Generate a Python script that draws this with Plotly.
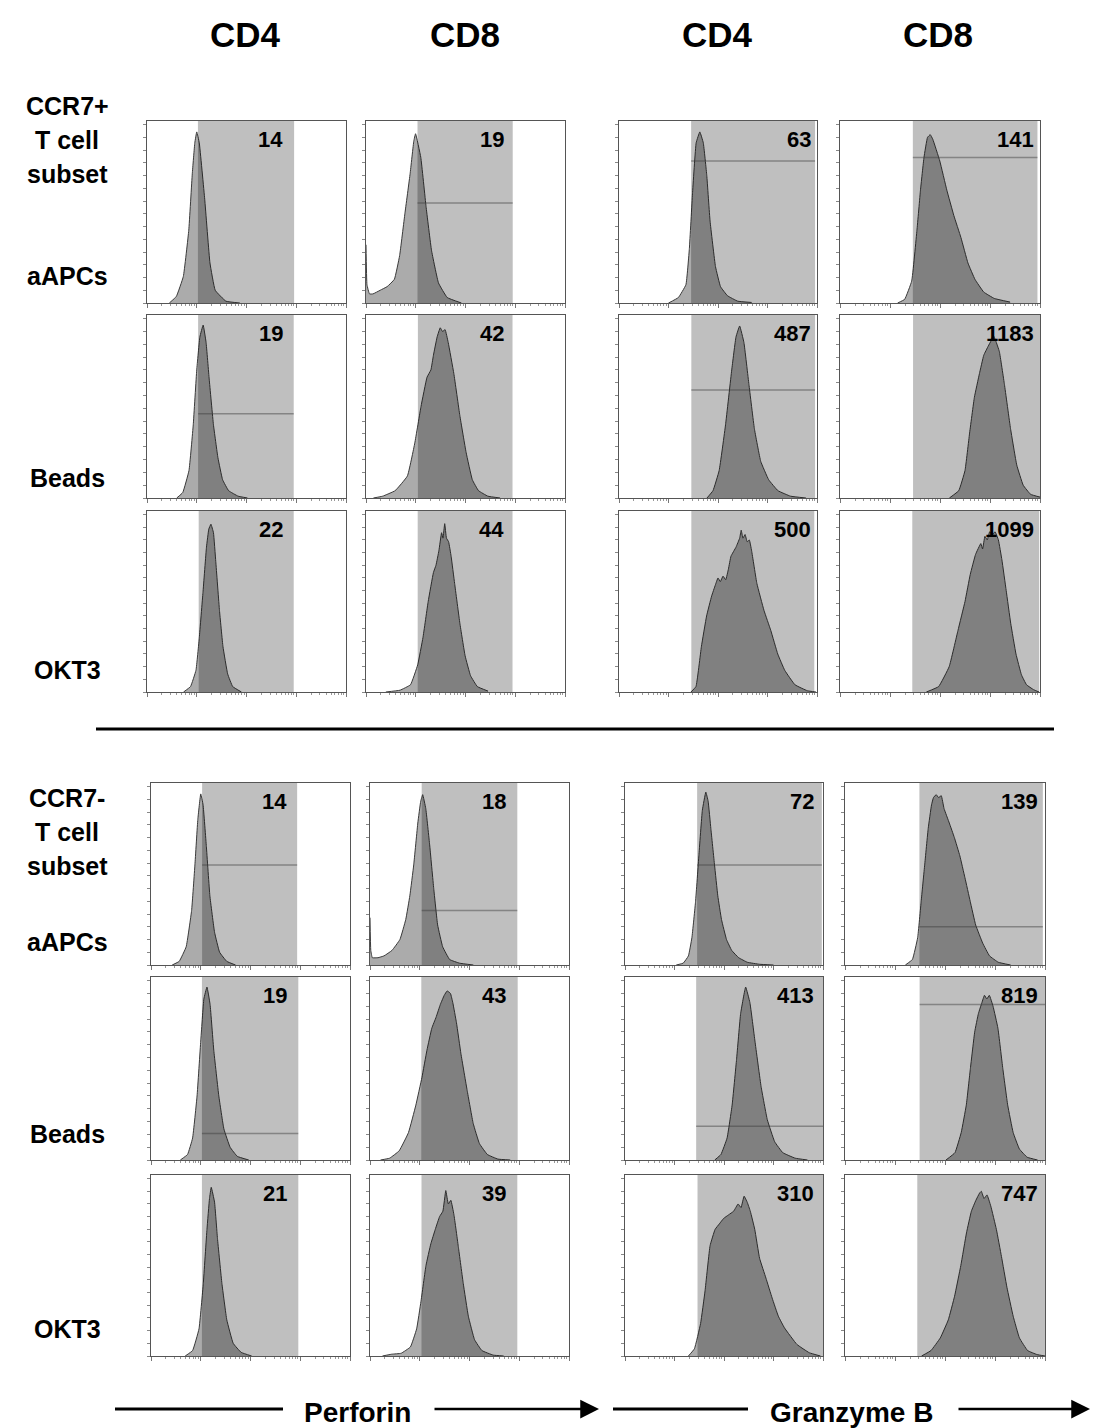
import numpy as np
import plotly.graph_objects as go

# ---------------- labels ----------------
col_headers = ["CD4", "CD8", "CD4", "CD8"]
marker_labels = ["Perforin", "Granzyme B"]
subset_top = ["CCR7+", "T cell", "subset"]
subset_bot = ["CCR7-", "T cell", "subset"]
stim_labels = ["aAPCs", "Beads", "OKT3"]

# MFI numbers shown in each panel [row][col]
mfi_values = [[14, 19, 63, 141],
              [19, 42, 487, 1183],
              [22, 44, 500, 1099],
              [14, 18, 72, 139],
              [19, 43, 413, 819],
              [21, 39, 310, 747]]

# gate (channel units, 0-1024 = 4 log decades)
gate_lo = [[262, 265, 373, 373],
           [263, 267, 374, 374],
           [266, 266, 374, 370],
           [263, 266, 373, 381],
           [262, 264, 368, 382],
           [262, 265, 375, 370]]
gate_hi = [[757, 755, 1014, 1011],
           [755, 754, 1014, 1024],
           [755, 754, 1010, 1020],
           [752, 758, 1018, 1013],
           [758, 760, 1024, 1024],
           [758, 758, 1024, 1024]]
# height (% of max) of the horizontal gate marker, None = no marker
gate_marker = [[None, 55, 78, 80],
               [46, None, 59, None],
               [None, None, None, None],
               [55, 30, 55, 21],
               [14.5, None, 18.5, 85],
               [None, None, None, None]]

# ---------------- histograms (channel, % of max) ----------------
r1c1_ch = [115, 151, 187, 215, 233, 246, 256, 269, 297, 324, 351, 406, 478]
r1c1_pct = [0, 3.6, 14.6, 40, 71, 88, 94, 88, 57, 22, 7, 1, 0]
r1c2_ch = [0, 5, 18, 36, 73, 109, 146, 173, 200, 227, 246, 255, 282, 309, 337, 373, 418, 491]
r1c2_pct = [32, 10, 5, 5, 7, 9, 13, 26, 49, 71, 89, 93, 80, 53, 29, 11, 3, 0]
r1c3_ch = [256, 307, 346, 364, 380, 399, 418, 436, 454, 471, 499, 525, 561, 614, 686]
r1c3_pct = [0, 3, 10, 30, 60, 88, 94, 88, 70, 45, 20, 9, 4, 1, 0.3]
r1c4_ch = [295, 331, 367, 394, 412, 430, 448, 462, 475, 511, 547, 583, 619, 655, 691, 736, 790, 871]
r1c4_pct = [0, 2, 12, 40, 62, 80, 91, 92.5, 90, 78, 62, 48, 36, 22, 13, 6, 2.5, 0.5]

r2c1_ch = [153, 184, 216, 238, 256, 272, 289, 304, 320, 342, 365, 389, 420, 469, 517]
r2c1_pct = [0, 3, 15, 40, 70, 88, 94.5, 85, 65, 40, 22, 10, 4, 1, 0]
r2c2_ch = [38, 86, 150, 213, 251, 283, 314, 334, 347, 366, 382, 394, 407, 423, 452, 483, 515, 547, 579, 627, 690]
r2c2_pct = [0, 1, 4, 12, 30, 50, 66, 70, 78, 88, 93, 91, 92, 85, 68, 45, 25, 10, 4, 1, 0]
r2c3_ch = [455, 486, 518, 551, 583, 605, 624, 646, 672, 700, 733, 774, 822, 887, 967]
r2c3_pct = [0, 4, 15, 40, 70, 88, 94, 85, 62, 38, 20, 10, 4, 1, 0]
r2c4_ch = [560, 608, 640, 663, 688, 714, 736, 759, 774, 784, 797, 816, 842, 873, 905, 938, 976, 1024]
r2c4_pct = [0, 4, 15, 35, 55, 68, 78, 83, 86, 89, 86, 80, 62, 38, 18, 7, 2, 0.5]

r3c1_ch = [188, 224, 252, 269, 288, 306, 318, 329, 342, 354, 373, 391, 415, 441, 486]
r3c1_pct = [0, 3, 12, 30, 55, 80, 90, 92.7, 88, 72, 45, 25, 10, 3, 0]
r3c2_ch = [102, 175, 229, 266, 293, 320, 347, 360, 375, 389, 396, 405, 414, 425, 438, 456, 483, 510, 538, 573, 628]
r3c2_pct = [0, 1, 4, 15, 30, 50, 66, 70, 78, 88, 85, 93, 85, 83, 75, 60, 38, 20, 9, 3, 0.5]
r3c3_ch = [372, 398, 426, 453, 479, 498, 512, 524, 538, 552, 566, 579, 605, 624, 632, 641, 652, 663,
           674, 686, 713, 750, 785, 821, 857, 910, 974, 1019]
r3c3_pct = [0, 3, 25, 42, 53, 59, 63, 61, 64, 62, 68, 75, 80, 85, 89.4, 85, 87, 83,
            84, 78, 60, 45, 34, 21, 12, 4, 0.7, 0]
r3c4_ch = [442, 505, 559, 604, 640, 667, 694, 721, 730, 742, 754, 766, 779, 794, 811, 829, 851, 874,
           901, 929, 955, 991, 1019]
r3c4_pct = [0, 3, 14, 34, 50, 65, 76, 82, 79, 86, 84, 88.5, 87, 88.5, 84, 73, 56, 38,
            21, 9.5, 4, 1.3, 0]

r4c1_ch = [109, 145, 181, 209, 226, 241, 256, 268, 285, 303, 327, 353, 390, 435]
r4c1_pct = [0, 2, 10, 30, 55, 80, 94, 88, 65, 38, 18, 7, 2, 0]
r4c2_ch = [0, 4, 12, 41, 72, 113, 154, 184, 205, 225, 246, 261, 271, 287, 307, 328, 348, 374, 410, 461, 532]
r4c2_pct = [26, 8, 4, 4, 5, 8, 14, 25, 38, 55, 78, 90, 93.6, 86, 66, 42, 22, 10, 3, 1, 0]
r4c3_ch = [265, 301, 328, 346, 365, 382, 400, 418, 430, 444, 463, 480, 499, 525, 552, 588, 633, 696, 768]
r4c3_pct = [0, 1, 5, 15, 35, 60, 85, 95, 90, 75, 55, 38, 25, 14, 8, 4, 1.5, 0.4, 0]
r4c4_ch = [309, 345, 372, 390, 408, 426, 443, 453, 467, 479, 493, 507, 534, 560, 588, 614, 641, 669,
           705, 740, 785, 848]
r4c4_pct = [0, 3, 15, 35, 55, 75, 88, 92, 93.6, 92, 93, 86, 78, 70, 60, 48, 35, 22, 12, 5, 1.5, 0]

r5c1_ch = [151, 188, 214, 237, 256, 272, 288, 304, 323, 349, 375, 407, 444, 503]
r5c1_pct = [0, 3, 12, 35, 65, 88, 94.5, 85, 60, 35, 17, 7, 2, 0]
r5c2_ch = [54, 101, 150, 198, 236, 267, 293, 318, 340, 362, 382, 397, 414, 426, 445, 468, 500, 531,
           563, 604, 658, 722]
r5c2_pct = [0, 1, 5, 15, 30, 45, 60, 72, 78, 85, 90, 92.4, 91, 86, 75, 58, 38, 20, 9, 3, 0.5, 0]
r5c3_ch = [464, 496, 528, 554, 577, 598, 624, 646, 672, 704, 736, 774, 816, 880, 944]
r5c3_pct = [0, 3, 12, 30, 55, 80, 94.5, 86, 65, 40, 22, 10, 4, 1, 0]
r5c4_ch = [517, 563, 595, 621, 642, 664, 683, 701, 714, 726, 739, 758, 783, 808, 833, 861, 893, 933, 986]
r5c4_pct = [0, 4, 15, 30, 50, 70, 80, 86, 90, 88, 90, 84, 72, 50, 30, 15, 6, 1.5, 0]

r6c1_ch = [176, 214, 247, 269, 288, 301, 310, 327, 342, 365, 390, 423, 464, 518]
r6c1_pct = [0, 3, 15, 40, 70, 87, 93.2, 85, 65, 40, 20, 7, 2, 0]
r6c2_ch = [64, 112, 160, 208, 240, 262, 288, 313, 336, 358, 375, 390, 403, 416, 432, 455, 480, 506,
           538, 576, 634, 688]
r6c2_pct = [0, 1, 1.5, 5, 15, 30, 50, 62, 70, 77, 80, 91.4, 84, 86, 78, 60, 40, 22, 9, 3, 0.5, 0]
r6c3_ch = [328, 359, 391, 414, 440, 466, 488, 510, 536, 562, 585, 600, 616, 632, 648, 671, 696, 729,
           761, 793, 825, 889, 953, 1011]
r6c3_pct = [0, 4, 18, 36, 61, 70, 73, 76, 78, 80, 84, 82, 88.3, 85, 80, 70, 54, 43,
            32, 22, 15.5, 6.4, 1.8, 0]
r6c4_ch = [392, 440, 488, 529, 561, 593, 622, 647, 670, 689, 698, 712, 727, 746, 775, 801, 829, 861,
           893, 935, 983, 1024]
r6c4_pct = [0, 3, 10, 20, 33, 50, 68, 80, 86, 90, 91, 87, 89, 83, 70, 55, 38, 22, 10, 3, 0.8, 0]

hist_ch = [[r1c1_ch, r1c2_ch, r1c3_ch, r1c4_ch],
           [r2c1_ch, r2c2_ch, r2c3_ch, r2c4_ch],
           [r3c1_ch, r3c2_ch, r3c3_ch, r3c4_ch],
           [r4c1_ch, r4c2_ch, r4c3_ch, r4c4_ch],
           [r5c1_ch, r5c2_ch, r5c3_ch, r5c4_ch],
           [r6c1_ch, r6c2_ch, r6c3_ch, r6c4_ch]]
hist_pct = [[r1c1_pct, r1c2_pct, r1c3_pct, r1c4_pct],
            [r2c1_pct, r2c2_pct, r2c3_pct, r2c4_pct],
            [r3c1_pct, r3c2_pct, r3c3_pct, r3c4_pct],
            [r4c1_pct, r4c2_pct, r4c3_pct, r4c4_pct],
            [r5c1_pct, r5c2_pct, r5c3_pct, r5c4_pct],
            [r6c1_pct, r6c2_pct, r6c3_pct, r6c4_pct]]

# ---------------- layout geometry (pixels) ----------------
W, H = 1094, 1428
top_cols = [(147, 346), (366, 565), (619, 817), (840, 1040)]
bot_cols = [(151, 350), (370, 569), (625, 823), (845, 1045)]
rows_px = [(121, 303), (315, 498), (511, 692), (783, 965), (977, 1160), (1175, 1356)]
num_right_top = [285, 506, 813, 1036]
num_right_bot = [289, 508, 816, 1040]

FONT = "Liberation Sans, Arial, Helvetica, sans-serif"


def px_x(p):
    return p / W


def px_y(p):
    return 1 - p / H


major_ticks = [0, 256, 512, 768, 1024]
minor_ticks = [256 * (d + np.log10(k)) for d in range(4) for k in range(2, 10)]

fig = go.Figure()
axes = {}
shapes = []
annotations = []

for r in range(6):
    cols = top_cols if r < 3 else bot_cols
    num_right = num_right_top if r < 3 else num_right_bot
    ytop, ybot = rows_px[r]
    for c in range(4):
        k = r * 4 + c + 1
        xa = "x" if k == 1 else f"x{k}"
        ya = "y" if k == 1 else f"y{k}"
        xl, xr = cols[c]
        axes["xaxis" if k == 1 else f"xaxis{k}"] = dict(
            domain=[px_x(xl), px_x(xr)], anchor=ya, range=[0, 1024],
            showgrid=False, zeroline=False, showline=True, mirror=True,
            linecolor="#555555", linewidth=1,
            tickmode="array", tickvals=major_ticks, ticks="outside", ticklen=4,
            tickcolor="#777777", tickwidth=1, showticklabels=False,
            minor=dict(tickvals=minor_ticks, ticks="outside", ticklen=2,
                       tickcolor="#999999", tickwidth=1),
            fixedrange=True)
        axes["yaxis" if k == 1 else f"yaxis{k}"] = dict(
            domain=[px_y(ybot), px_y(ytop)], anchor=xa, range=[0, 100],
            showgrid=False, zeroline=False, showline=True, mirror=True,
            linecolor="#555555", linewidth=1,
            tickmode="linear", tick0=0, dtick=7, ticks="outside", ticklen=3,
            tickcolor="#888888", tickwidth=1, showticklabels=False,
            fixedrange=True)

        fig.add_trace(go.Scatter(
            x=hist_ch[r][c], y=hist_pct[r][c], xaxis=xa, yaxis=ya,
            mode="lines", line=dict(color="#3a3a3a", width=1, shape="spline", smoothing=0.3),
            fill="tozeroy", fillcolor="#ababab", showlegend=False, hoverinfo="skip"))

        # gate band (darkens what lies beneath)
        shapes.append(dict(type="rect", xref=xa, yref=f"{ya} domain",
                           x0=gate_lo[r][c], x1=gate_hi[r][c], y0=0, y1=1,
                           fillcolor="rgba(0,0,0,0.25)", line=dict(width=0), layer="above"))
        gm = gate_marker[r][c]
        if gm is not None:
            shapes.append(dict(type="line", xref=xa, yref=ya,
                               x0=gate_lo[r][c], x1=gate_hi[r][c], y0=gm, y1=gm,
                               line=dict(color="rgba(60,60,60,0.45)", width=1.5), layer="above"))

        annotations.append(dict(
            x=px_x(num_right[c]), y=px_y(ytop + 4), xref="paper", yref="paper",
            xanchor="right", yanchor="top", showarrow=False,
            text=str(mfi_values[r][c]),
            font=dict(family=FONT, size=22, color="black", weight="bold")))

# column headers
header_x = [246, 465, 717, 938]
for c in range(4):
    annotations.append(dict(x=px_x(header_x[c]), y=px_y(34), xref="paper", yref="paper",
                            xanchor="center", yanchor="middle", showarrow=False,
                            text=col_headers[c],
                            font=dict(family=FONT, size=35, color="black", weight="bold")))

# row labels
label_x = 67
subset_y_top = [106, 140, 174]
subset_y_bot = [798, 832, 866]
stim_y_top = [276, 478, 670]
stim_y_bot = [942, 1134, 1329]
for i in range(3):
    for txt, yy in ((subset_top[i], subset_y_top[i]), (subset_bot[i], subset_y_bot[i]),
                    (stim_labels[i], stim_y_top[i]), (stim_labels[i], stim_y_bot[i])):
        annotations.append(dict(x=px_x(label_x), y=px_y(yy), xref="paper", yref="paper",
                                xanchor="center", yanchor="middle", showarrow=False, text=txt,
                                font=dict(family=FONT, size=25, color="black", weight="bold")))

# separator line
shapes.append(dict(type="line", xref="paper", yref="paper",
                   x0=px_x(96), x1=px_x(1054), y0=px_y(729), y1=px_y(729),
                   line=dict(color="black", width=3)))

# bottom marker axes with arrows
arrow_y = 1409
shapes.append(dict(type="line", xref="paper", yref="paper",
                   x0=px_x(115), x1=px_x(283), y0=px_y(arrow_y), y1=px_y(arrow_y),
                   line=dict(color="black", width=3)))
shapes.append(dict(type="line", xref="paper", yref="paper",
                   x0=px_x(613), x1=px_x(748), y0=px_y(arrow_y), y1=px_y(arrow_y),
                   line=dict(color="black", width=3)))
for (tail, head) in ((433, 599), (957, 1090)):
    annotations.append(dict(x=px_x(head), y=px_y(arrow_y), xref="paper", yref="paper",
                            ax=tail - head, ay=0, axref="pixel", ayref="pixel",
                            text="", showarrow=True, arrowhead=2, arrowsize=1.5,
                            arrowwidth=2.5, arrowcolor="black", standoff=0))
marker_x = [357, 851]
for i in range(2):
    annotations.append(dict(x=px_x(marker_x[i]), y=px_y(1412), xref="paper", yref="paper",
                            xanchor="center", yanchor="middle", showarrow=False,
                            text=marker_labels[i],
                            font=dict(family=FONT, size=28, color="black", weight="bold")))

fig.update_layout(
    width=W, height=H, autosize=False,
    margin=dict(l=0, r=0, t=0, b=0, pad=0),
    paper_bgcolor="white", plot_bgcolor="white",
    showlegend=False, shapes=shapes, annotations=annotations,
    **axes)

fig.write_html("out.html", config={"displayModeBar": False, "staticPlot": True},
               post_script="document.body.style.margin='0';")
